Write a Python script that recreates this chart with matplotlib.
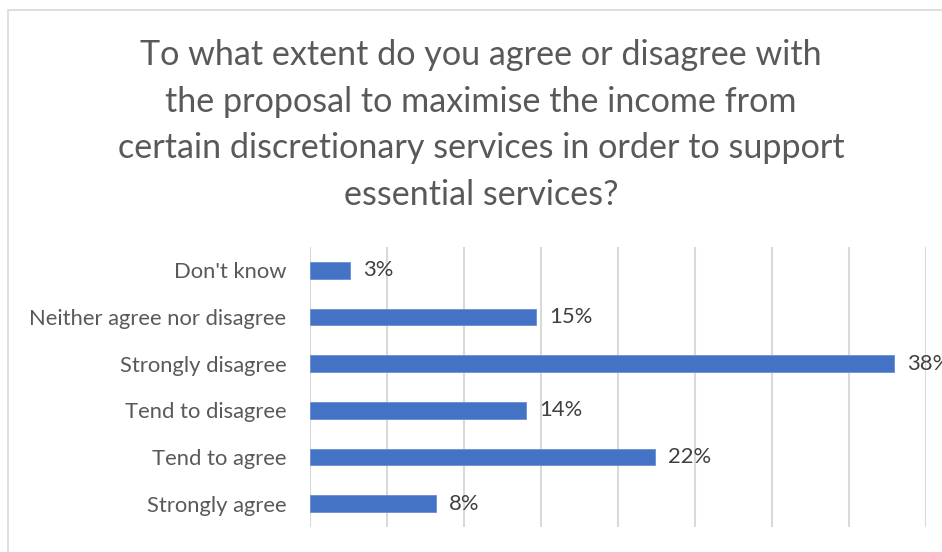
import matplotlib
matplotlib.use("Agg")
import matplotlib.pyplot as plt
from matplotlib.patches import Rectangle

plt.rcParams['font.family'] = ['Lato', 'DejaVu Sans']

categories = ["Strongly agree", "Tend to agree", "Tend to disagree",
              "Strongly disagree", "Neither agree nor disagree", "Don't know"]
values = [8.2, 22.4, 14.0, 37.9, 14.7, 2.6]
xticks = [0, 5, 10, 15, 20, 25, 30, 35, 40]

title = ("To what extent do you agree or disagree with\n"
         "the proposal to maximise the income from\n"
         "certain discretionary services in order to support\n"
         "essential services?")

W, H = 942, 552
fig = plt.figure(figsize=(W / 100, H / 100), dpi=100)
fig.patch.set_facecolor("white")

# chart frame
fig.add_artist(Rectangle((8 / W, -0.1), 1.2, (H - 10) / H + 0.1,
                         transform=fig.transFigure, fill=False,
                         edgecolor="#D9D9D9", linewidth=1.2))

ax = fig.add_axes([310 / W, 1 - 527 / H, 616 / W, 280 / H])
ypos = range(len(categories))
ax.barh(ypos, values, height=0.36, color="#4472C4",
        edgecolor="#6A8FD3", linewidth=0.6, zorder=3)

for y, v in zip(ypos, values):
    ax.text(v + 0.85, y, f"{round(v):d}%", va="center", ha="left",
            fontsize=15.8, color="#404040", clip_on=False)

ax.set_xlim(0, 40)
ax.set_ylim(-0.5, len(categories) - 0.5)
ax.set_xticks(xticks)
ax.set_xticklabels([])
ax.tick_params(axis="x", length=0)
ax.tick_params(axis="y", length=0, pad=17, labelsize=15.8, labelcolor="#595959")
ax.set_yticks(list(ypos))
ax.set_yticklabels(categories)
ax.grid(axis="x", color="#D9D9D9", linewidth=1.5, zorder=0)
for s in ax.spines.values():
    s.set_visible(False)

fig.text(481 / W, 1 - 125 / H, title, ha="center", va="center",
         fontsize=24.6, color="#595959", linespacing=1.56)

fig.savefig("out.png", dpi=100, facecolor="white")
